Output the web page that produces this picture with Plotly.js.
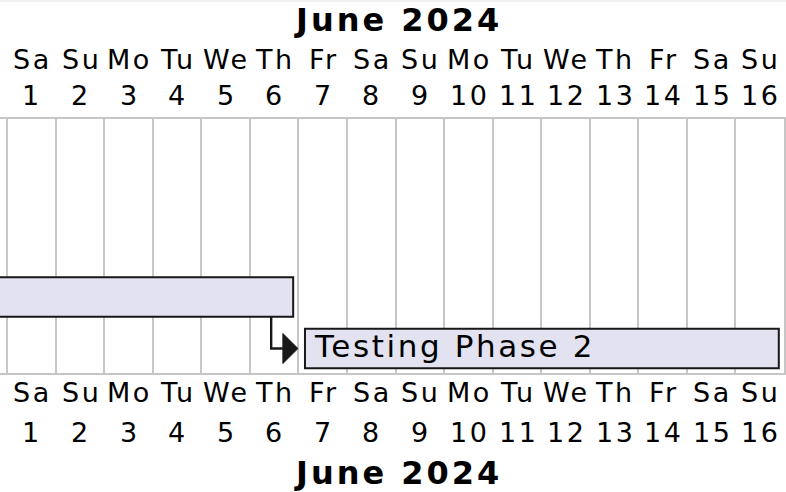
<!DOCTYPE html>
<html>
<head>
<meta charset="utf-8">
<script src="https://cdn.plot.ly/plotly-3.0.1.min.js"></script>
<style>
  html, body { margin: 0; padding: 0; background: #fff; }
  #chart { width: 786px; height: 492px; }
</style>
</head>
<body>
<div id="chart"></div>
<script>
// ---- data ----
const monthLabel = 'June 2024';
const dayNumbers = [1, 2, 3, 4, 5, 6, 7, 8, 9, 10, 11, 12, 13, 14, 15, 16];
const dayNames = ['Sa', 'Su', 'Mo', 'Tu', 'We', 'Th', 'Fr', 'Sa', 'Su', 'Mo', 'Tu', 'We', 'Th', 'Fr', 'Sa', 'Su'];
const taskNames = ['Testing Phase 1', 'Testing Phase 2'];
const taskStartDay = [-3, 7];   // day of June (May 28 = -3)
const taskEndDay = [6, 16];     // inclusive last day
const taskRow = [1, 0];
const dependencies = [[0, 1]];  // task 0 -> task 1

// ---- layout helpers (styling only) ----
const W = 786, H = 492;
const gridLeftPx = 7, gridRightPx = 784, gridTopPx = 119, gridBottomPx = 373;
const colW = (gridRightPx - gridLeftPx) / dayNumbers.length;
const firstDay = dayNumbers[0];
const lastDay = dayNumbers[dayNumbers.length - 1];
const rowPx = 51.5, row0CenterPx = 348.5;
const plotH = gridBottomPx - gridTopPx;
const yBottom = (row0CenterPx - gridBottomPx) / rowPx;
const yTop = (row0CenterPx - gridTopPx) / rowPx;
const barHalf = 0.385;
const startInset = 0.136, endInset = 0.107;
function pyToPaper(py) { return (gridBottomPx - py) / plotH; }

const FONT = 'DejaVu Sans, Verdana, sans-serif';
const INK = '#181818';

const bases = taskStartDay.map(s => s + startInset);
const lengths = taskEndDay.map((e, i) => (e + 1 - endInset) - bases[i]);

const traces = [{
  type: 'bar',
  orientation: 'h',
  y: taskRow,
  base: bases,
  x: lengths,
  width: 0.77,
  marker: { color: '#E2E2F0', line: { color: INK, width: 2 } },
  hoverinfo: 'skip',
  showlegend: false
}];

const annotations = [];
function sp(t, ls) { return '<span style="letter-spacing:' + ls + 'px">' + t + '</span>'; }
dayNumbers.forEach((d, i) => {
  const xc = d + 0.5;
  [[60, dayNames[i]], [96, String(d)], [392, dayNames[i]], [432, String(d)]].forEach(([py, t]) => {
    annotations.push({
      xref: 'x', yref: 'paper', x: xc, y: pyToPaper(py),
      text: sp(t, 2.5), showarrow: false, xanchor: 'center', yanchor: 'middle',
      xshift: 1.2,
      font: { family: FONT, size: 27, color: '#000' }
    });
  });
});
[[19.5], [472.5]].forEach(([py]) => {
  annotations.push({
    xref: 'paper', yref: 'paper', x: 398 / (gridRightPx), y: pyToPaper(py),
    text: sp(monthLabel, 3), showarrow: false, xanchor: 'center', yanchor: 'middle',
    font: { family: FONT, size: 32, color: '#000', weight: 'bold' }
  });
});
taskNames.forEach((n, i) => {
  annotations.push({
    xref: 'x', yref: 'y', x: bases[i], y: taskRow[i],
    text: sp(n, 2.6), showarrow: false, xanchor: 'left', yanchor: 'middle',
    xshift: 7, yshift: 3,
    font: { family: FONT, size: 31, color: '#000' }
  });
});

const shapes = [{
  type: 'line', xref: 'paper', yref: 'paper', x0: 0, x1: W / gridRightPx,
  y0: pyToPaper(1), y1: pyToPaper(1), line: { color: '#e2e2e2', width: 1 }
}];
dependencies.forEach(([a, b]) => {
  const xs = taskEndDay[a] + 0.44;
  const ya = taskRow[a] - barHalf;
  const yb = taskRow[b];
  const tipX = bases[b] - 0.145;
  const baseX = tipX - 0.31;
  const hh = 15 / rowPx;
  shapes.push({
    type: 'path', xref: 'x', yref: 'y',
    path: 'M' + xs + ',' + ya + ' L' + xs + ',' + yb + ' L' + baseX + ',' + yb,
    line: { color: INK, width: 2.4 }
  });
  shapes.push({
    type: 'path', xref: 'x', yref: 'y',
    path: 'M' + baseX + ',' + (yb + hh) + ' L' + tipX + ',' + yb + ' L' + baseX + ',' + (yb - hh) + ' Z',
    fillcolor: INK, line: { color: INK, width: 1 }
  });
});

const gridVals = [];
for (let d = firstDay; d <= lastDay + 1; d++) gridVals.push(d);

const layout = {
  width: W, height: H,
  margin: { l: 0, r: W - gridRightPx, t: gridTopPx, b: H - gridBottomPx, pad: 0 },
  paper_bgcolor: '#fff', plot_bgcolor: '#fff',
  showlegend: false,
  bargap: 0,
  xaxis: {
    range: [firstDay - gridLeftPx / colW, lastDay + 1],
    tickmode: 'array', tickvals: gridVals, showticklabels: false, ticks: '',
    showgrid: true, gridcolor: '#c6c6c6', gridwidth: 2,
    zeroline: false, showline: true, mirror: true, linecolor: '#c6c6c6', linewidth: 2,
    fixedrange: true
  },
  yaxis: {
    range: [yBottom, yTop], showticklabels: false, ticks: '', showgrid: false,
    zeroline: false, showline: true, side: 'right', linecolor: '#c6c6c6', linewidth: 2,
    fixedrange: true
  },
  annotations: annotations,
  shapes: shapes
};

Plotly.newPlot('chart', traces, layout, { displayModeBar: false, staticPlot: true });
</script>
</body>
</html>
